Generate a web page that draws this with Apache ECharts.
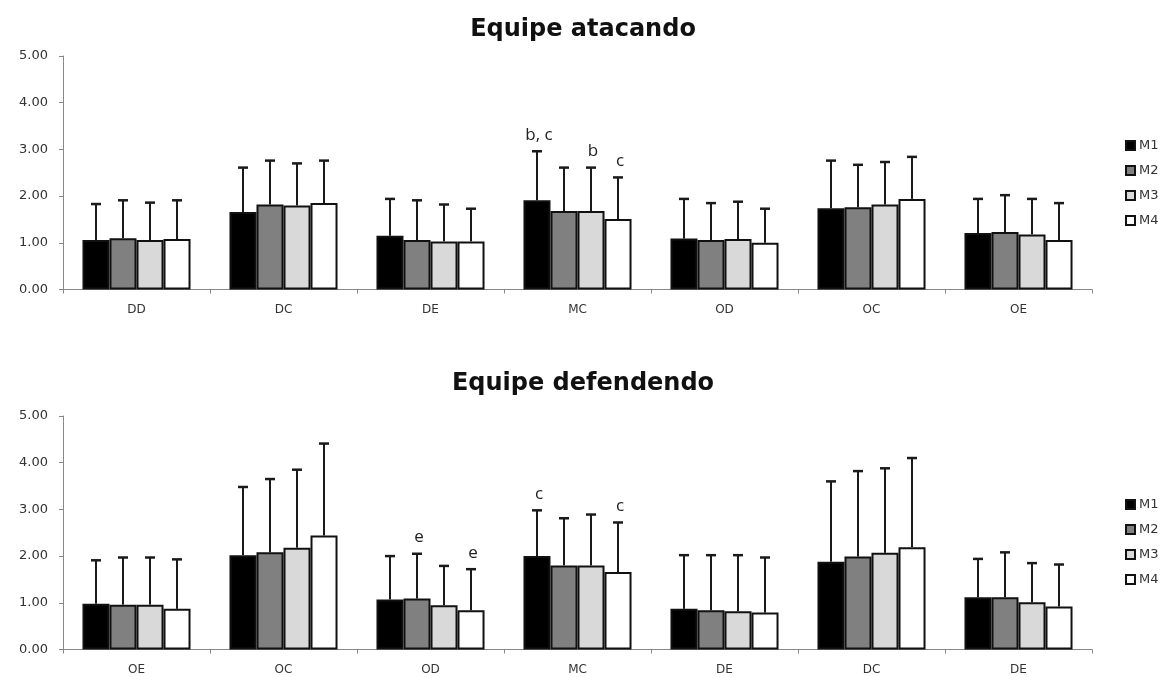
<!DOCTYPE html>
<html>
<head>
<meta charset="utf-8">
<script src="https://cdn.jsdelivr.net/npm/echarts@6/dist/echarts.min.js"></script>
<style>html,body{margin:0;padding:0;background:#fff}#c{width:1166px;height:677px}</style>
</head>
<body>
<div id="c"></div>
<script>
// ---- Data ----
var seriesNames = ['M1', 'M2', 'M3', 'M4'];
var catsTop = ['DD', 'DC', 'DE', 'MC', 'OD', 'OC', 'OE'];
var catsBottom = ['OE', 'OC', 'OD', 'MC', 'DE', 'DC', 'DE'];
var yTicks = [0, 1, 2, 3, 4, 5];

// Equipe atacando: means and SD
var topM1 = [1.06, 1.66, 1.15, 1.91, 1.09, 1.74, 1.21];
var topM2 = [1.10, 1.82, 1.06, 1.68, 1.06, 1.76, 1.23];
var topM3 = [1.06, 1.80, 1.03, 1.68, 1.08, 1.82, 1.18];
var topM4 = [1.08, 1.85, 1.03, 1.51, 1.00, 1.94, 1.06];
var topSdM1 = [0.77, 0.95, 0.79, 1.05, 0.85, 1.02, 0.73];
var topSdM2 = [0.81, 0.94, 0.85, 0.93, 0.79, 0.91, 0.79];
var topSdM3 = [0.80, 0.90, 0.79, 0.93, 0.80, 0.91, 0.76];
var topSdM4 = [0.83, 0.91, 0.70, 0.89, 0.73, 0.90, 0.79];
var topAnnM1 = ['', '', '', 'b, c', '', '', ''];
var topAnnM2 = ['', '', '', '', '', '', ''];
var topAnnM3 = ['', '', '', 'b', '', '', ''];
var topAnnM4 = ['', '', '', 'c', '', '', ''];

// Equipe defendendo: means and SD
var botM1 = [0.98, 2.02, 1.07, 2.00, 0.87, 1.88, 1.12];
var botM2 = [0.96, 2.08, 1.09, 1.80, 0.84, 1.99, 1.12];
var botM3 = [0.96, 2.18, 0.95, 1.80, 0.82, 2.07, 1.01];
var botM4 = [0.87, 2.44, 0.84, 1.66, 0.79, 2.19, 0.92];
var botSdM1 = [0.93, 1.46, 0.93, 0.98, 1.15, 1.72, 0.82];
var botSdM2 = [1.01, 1.57, 0.96, 1.01, 1.18, 1.83, 0.96];
var botSdM3 = [1.01, 1.67, 0.84, 1.09, 1.20, 1.81, 0.84];
var botSdM4 = [1.06, 1.97, 0.88, 1.06, 1.18, 1.91, 0.90];
var botAnnM1 = ['', '', '', 'c', '', '', ''];
var botAnnM2 = ['', '', 'e', '', '', '', ''];
var botAnnM3 = ['', '', '', '', '', '', ''];
var botAnnM4 = ['', '', 'e', 'c', '', '', ''];

// ---- Styling ----
var barColors = ['#000000', '#808080', '#d9d9d9', '#ffffff'];
var CAT_GAP = 0.265;

var topMeans = [topM1, topM2, topM3, topM4];
var topSds = [topSdM1, topSdM2, topSdM3, topSdM4];
var topAnns = [topAnnM1, topAnnM2, topAnnM3, topAnnM4];
var botMeans = [botM1, botM2, botM3, botM4];
var botSds = [botSdM1, botSdM2, botSdM3, botSdM4];
var botAnns = [botAnnM1, botAnnM2, botAnnM3, botAnnM4];

function errRender(k, anns) {
  return function (params, api) {
    var i = api.value(0), m = api.value(1), sd = api.value(2);
    var base = api.coord([i, m]);
    var top = api.coord([i, m + sd]);
    var band = api.size([1, 0])[0];
    var bw = band * (1 - CAT_GAP) / 4;
    var x = base[0] + (k - 1.5) * bw;
    var children = [
      { type: 'line', shape: { x1: x, y1: base[1], x2: x, y2: top[1] },
        style: { stroke: '#1a1a1a', lineWidth: 2 } },
      { type: 'line', shape: { x1: x - 5, y1: top[1], x2: x + 5, y2: top[1] },
        style: { stroke: '#1a1a1a', lineWidth: 2.5 } }
    ];
    var a = anns[params.dataIndex];
    if (a) {
      children.push({ type: 'text', x: x + 2, y: top[1] - 8,
        style: { text: a, fill: '#222', font: '17px "Open Sans"', align: 'center', verticalAlign: 'bottom' } });
    }
    return { type: 'group', children: children };
  };
}

var series = [];
function addGrid(gi, means, sds, anns) {
  for (var k = 0; k < 4; k++) {
    series.push({
      name: seriesNames[k], type: 'bar', xAxisIndex: gi, yAxisIndex: gi,
      data: means[k], barGap: '0%', barCategoryGap: (CAT_GAP * 100) + '%',
      itemStyle: { color: barColors[k], borderColor: '#111', borderWidth: 2 },
      emphasis: { disabled: true }, z: 2
    });
  }
  for (var k2 = 0; k2 < 4; k2++) {
    var d = means[k2].map(function (v, i) { return [i, v, sds[k2][i]]; });
    series.push({
      name: seriesNames[k2] + ' sd', type: 'custom', xAxisIndex: gi, yAxisIndex: gi,
      renderItem: errRender(k2, anns[k2]), data: d, encode: { x: 0, y: 1 }, z: 5, silent: true
    });
  }
}
addGrid(0, topMeans, topSds, topAnns);
addGrid(1, botMeans, botSds, botAnns);

function xAx(gi, cats) {
  return {
    type: 'category', gridIndex: gi, data: cats,
    axisLine: { lineStyle: { color: '#888', width: 1 } },
    axisTick: { show: true, length: 4, lineStyle: { color: '#888' } },
    axisLabel: { color: '#333', fontFamily: 'DejaVu Sans', fontSize: 12, margin: 14 }
  };
}
function yAx(gi) {
  return {
    type: 'value', gridIndex: gi, min: yTicks[0], max: yTicks[yTicks.length - 1], interval: 1,
    axisLine: { show: true, lineStyle: { color: '#888', width: 1 } },
    axisTick: { show: true, length: 4, lineStyle: { color: '#888' } },
    splitLine: { show: false },
    axisLabel: { color: '#333', fontFamily: 'DejaVu Sans', fontSize: 13, margin: 15,
      formatter: function (v) { return v.toFixed(2); } }
  };
}
function legend(top) {
  return {
    data: seriesNames, orient: 'vertical', left: 1120, top: top,
    icon: 'rect', itemWidth: 9, itemHeight: 9, itemGap: 12,
    textStyle: { color: '#333', fontFamily: 'DejaVu Sans', fontSize: 13, padding: [0, 0, 0, -1] },
    selectedMode: false
  };
}

var option = {
  backgroundColor: '#fff',
  animation: false,
  title: [
    { text: 'Equipe atacando', left: 'center', top: 13,
      textStyle: { fontFamily: 'DejaVu Sans', fontWeight: 'bold', fontSize: 24, color: '#111' } },
    { text: 'Equipe defendendo', left: 'center', top: 367,
      textStyle: { fontFamily: 'DejaVu Sans', fontWeight: 'bold', fontSize: 24, color: '#111' } }
  ],
  legend: [legend(134), legend(493)],
  grid: [
    { left: 63, right: 74, top: 56, height: 233.5 },
    { left: 63, right: 74, top: 416, height: 233.5 }
  ],
  xAxis: [xAx(0, catsTop), xAx(1, catsBottom)],
  yAxis: [yAx(0), yAx(1)],
  series: series
};
var chart = echarts.init(document.getElementById('c'), null, { renderer: 'canvas' });
chart.setOption(option);
</script>
</body>
</html>
